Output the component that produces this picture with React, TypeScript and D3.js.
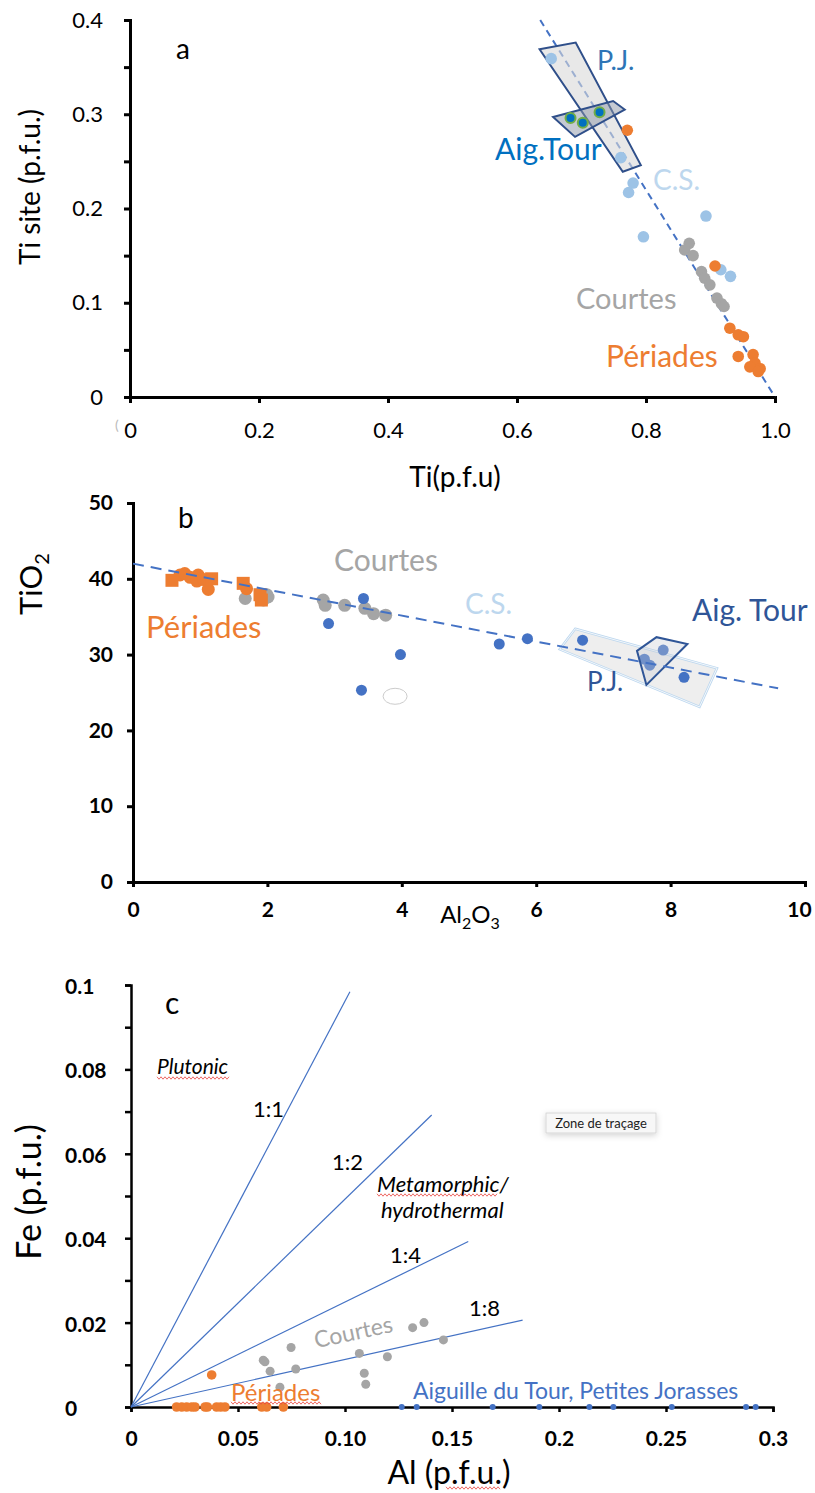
import React, { useEffect, useRef } from 'react';
import * as d3 from 'd3';

// ---- panel a : Ti site vs Ti (p.f.u.)
const csA = [[0.653, 0.359], [0.761, 0.254], [0.780, 0.227], [0.773, 0.217], [0.893, 0.192], [0.796, 0.170], [0.916, 0.135], [0.931, 0.128]];
const aigTourA = [[0.683, 0.296], [0.702, 0.291], [0.728, 0.302]];
const courtesA = [[0.867, 0.163], [0.860, 0.156], [0.873, 0.150], [0.886, 0.133], [0.891, 0.126], [0.899, 0.119], [0.910, 0.105], [0.917, 0.099], [0.921, 0.096]];
const periadesA = [[0.771, 0.283], [0.907, 0.139], [0.930, 0.073], [0.943, 0.066], [0.951, 0.064], [0.943, 0.043], [0.966, 0.045], [0.969, 0.036], [0.961, 0.032], [0.977, 0.030], [0.974, 0.027]];
const trendA = [[0.636, 0.4], [1.0, 0]];
const pjBoxA = [[0.635, 0.369], [0.691, 0.376], [0.792, 0.246], [0.764, 0.239]];
const aigBoxA = [[0.656, 0.297], [0.749, 0.314], [0.767, 0.305], [0.690, 0.276]];
const xTicksA = [0, 0.2, 0.4, 0.6, 0.8, 1.0];
const xTickLabelsA = ['0', '0.2', '0.4', '0.6', '0.8', '1.0'];
const yTicksA = [0, 0.1, 0.2, 0.3, 0.4];

// ---- panel b : TiO2 vs Al2O3
const periadesCirclesB = [[0.70, 40.5], [0.77, 40.7], [0.85, 40.2], [0.97, 40.5], [0.95, 39.7], [1.05, 39.9], [1.12, 38.6], [1.69, 38.7]];
const periadesSquaresB = [[0.58, 39.8], [1.17, 40.0], [1.64, 39.4], [1.89, 37.9], [1.91, 37.2]];
const courtesB = [[1.67, 37.4], [1.99, 37.9], [2.01, 37.6], [1.94, 37.2], [2.83, 37.2], [2.86, 36.5], [3.15, 36.5], [3.45, 36.1], [3.58, 35.4], [3.76, 35.2]];
const blueB = [[3.43, 37.4], [2.91, 34.1], [3.98, 30.0], [3.40, 25.3], [5.45, 31.4], [5.87, 32.1], [6.69, 31.9], [7.89, 30.6], [7.61, 29.4], [7.69, 28.6], [8.20, 27.0]];
const trendB = [[0, 42.0], [9.6, 25.55]];
const pjBoxB = [[6.58, 33.4], [8.69, 28.2], [8.43, 23.1], [6.35, 30.7]];
const aigBoxB = [[7.50, 30.5], [7.79, 32.3], [8.25, 31.4], [7.64, 26.0]];
const xTicksB = [0, 2, 4, 6, 8, 10];
const yTicksB = [0, 10, 20, 30, 40, 50];

// ---- panel c : Fe vs Al (p.f.u.)
const periadesC = [[0.0213, 0], [0.0237, 0], [0.026, 0], [0.0284, 0], [0.0299, 0], [0.0346, 0], [0.0357, 0], [0.040, 0], [0.0419, 0], [0.0439, 0], [0.0611, 0], [0.0634, 0], [0.0712, 0], [0.0377, 0.0076]];
const courtesC = [[0.0618, 0.0111], [0.0626, 0.0107], [0.065, 0.0085], [0.0748, 0.0141], [0.077, 0.0090], [0.0696, 0.0047], [0.1067, 0.0127], [0.109, 0.0080], [0.1097, 0.0054], [0.1198, 0.0119], [0.1316, 0.0188], [0.1369, 0.0200], [0.146, 0.0159]];
const aigPjC = [[0.1265, 0], [0.1335, 0], [0.169, 0], [0.1908, 0], [0.2142, 0], [0.2254, 0], [0.2527, 0], [0.2874, 0], [0.2919, 0]];
const ratioLinesC = [
  { label: '1:1', xEnd: 0.1023, yEnd: 0.0984 },
  { label: '1:2', xEnd: 0.1405, yEnd: 0.0692 },
  { label: '1:4', xEnd: 0.1576, yEnd: 0.0392 },
  { label: '1:8', xEnd: 0.183, yEnd: 0.0206 },
];
const xTicksC = [0, 0.05, 0.10, 0.15, 0.2, 0.25, 0.3];
const xTickLabelsC = ['0', '0.05', '0.10', '0.15', '0.2', '0.25', '0.3'];
const yMinorTicksC = [0, 0.01, 0.02, 0.03, 0.04, 0.05, 0.06, 0.07, 0.08, 0.09, 0.1];
const yTickLabelsC = [[0, '0'], [0.02, '0.02'], [0.04, '0.04'], [0.06, '0.06'], [0.08, '0.08'], [0.1, '0.1']];

const FONT = 'Lato, "Open Sans", sans-serif';
const ORANGE = '#ED7D31';
const GRAY = '#A5A5A5';
const LIGHTBLUE = '#9DC3E6';
const BLUE = '#4472C4';

function wavy(g, x1, x2, y) {
  // spell-check underline
  const pts = d3.range(x1, x2 + 0.1, 2).map((x, i) => [x, y + (i % 2 ? 1.2 : -1.2)]);
  g.append('path').attr('d', d3.line()(pts)).attr('fill', 'none').attr('stroke', '#e8413c').attr('stroke-width', 0.8);
}

export default function App() {
  const ref = useRef(null);

  useEffect(() => {
    const svg = d3.select(ref.current);
    svg.selectAll('*').remove();
    svg.style('font-family', FONT);

    const defs = svg.append('defs');
    const f = defs.append('filter').attr('id', 'shadow').attr('x', '-30%').attr('y', '-50%').attr('width', '160%').attr('height', '200%');
    f.append('feDropShadow').attr('dx', 0).attr('dy', 2).attr('stdDeviation', 3).attr('flood-color', '#000').attr('flood-opacity', 0.18);

    const styleAxis = (g, width, fontSize, bold) => {
      g.select('.domain').attr('stroke', '#000').attr('stroke-width', width);
      g.selectAll('.tick line').attr('stroke', '#000').attr('stroke-width', width);
      g.selectAll('.tick text').attr('fill', '#000').style('font-family', FONT).style('font-size', fontSize + 'px').style('font-weight', bold ? 'bold' : 'normal');
    };

    // ================= panel a =================
    const xA = d3.scaleLinear().domain([0, 1]).range([130, 775]);
    const yA = d3.scaleLinear().domain([0, 0.4]).range([397, 20]);
    const a = svg.append('g');

    a.append('g').attr('transform', `translate(0,${yA(0)})`)
      .call(d3.axisBottom(xA).tickValues(xTicksA).tickFormat((d, i) => xTickLabelsA[i]).tickSizeOuter(0).tickSize(6).tickPadding(19))
      .call(g => styleAxis(g, 3, 22, false));
    a.append('g').attr('transform', `translate(${xA(0)},0)`)
      .call(d3.axisLeft(yA).tickValues(d3.range(0, 0.401, 0.05)).tickFormat(d => (yTicksA.some(t => Math.abs(t - d) < 1e-6) ? d3.format('.1~f')(d) : '')).tickSizeOuter(0).tickSize(6).tickPadding(21))
      .call(g => styleAxis(g, 3, 22, false));
    a.append('text').attr('x', 115).attr('y', 430).attr('font-size', 14).attr('fill', '#bbb').text('(');

    a.append('path').attr('d', d3.line().x(d => xA(d[0])).y(d => yA(d[1]))(trendA))
      .attr('stroke', BLUE).attr('stroke-width', 2).attr('stroke-dasharray', '7,5').attr('fill', 'none');

    const polyA = d3.line().x(d => xA(d[0])).y(d => yA(d[1])).curve(d3.curveLinearClosed);
    a.append('path').attr('d', polyA(pjBoxA)).attr('fill', '#d9d9d9').attr('fill-opacity', 0.6).attr('stroke', '#2F4F8A').attr('stroke-width', 2);

    a.selectAll('.csA').data(csA).enter().append('circle').attr('cx', d => xA(d[0])).attr('cy', d => yA(d[1])).attr('r', 5.8).attr('fill', LIGHTBLUE);
    a.append('path').attr('d', polyA(aigBoxA)).attr('fill', '#8c96a8').attr('fill-opacity', 0.5).attr('stroke', '#2F4F8A').attr('stroke-width', 2);
    a.selectAll('.aigA').data(aigTourA).enter().append('circle').attr('cx', d => xA(d[0])).attr('cy', d => yA(d[1])).attr('r', 5).attr('fill', '#0070C0').attr('stroke', '#70AD47').attr('stroke-width', 2);
    a.selectAll('.courtesA').data(courtesA).enter().append('circle').attr('cx', d => xA(d[0])).attr('cy', d => yA(d[1])).attr('r', 5.8).attr('fill', GRAY);
    a.selectAll('.perA').data(periadesA).enter().append('circle').attr('cx', d => xA(d[0])).attr('cy', d => yA(d[1])).attr('r', 5.8).attr('fill', ORANGE);

    a.append('text').attr('x', 176).attr('y', 59).attr('font-size', 28).text('a');
    a.append('text').attr('x', 597).attr('y', 70).attr('font-size', 27).attr('fill', '#2E75B6').text('P.J.');
    a.append('text').attr('x', 495).attr('y', 160).attr('font-size', 30).attr('fill', '#0070C0').text('Aig.Tour');
    a.append('text').attr('x', 653).attr('y', 190).attr('font-size', 28).attr('fill', '#BDD7EE').text('C.S.');
    a.append('text').attr('x', 576).attr('y', 309).attr('font-size', 29).attr('fill', GRAY).text('Courtes');
    a.append('text').attr('x', 606).attr('y', 367).attr('font-size', 30).attr('fill', ORANGE).text('Périades');
    a.append('text').attr('transform', 'translate(40,187) rotate(-90)').attr('text-anchor', 'middle').attr('font-size', 28).text('Ti site (p.f.u.)');
    a.append('text').attr('x', 455).attr('y', 487).attr('text-anchor', 'middle').attr('font-size', 28).text('Ti(p.f.u)');

    // ================= panel b =================
    const xB = d3.scaleLinear().domain([0, 10]).range([133, 805]);
    const yB = d3.scaleLinear().domain([0, 50]).range([882, 503]);
    const b = svg.append('g');

    b.append('g').attr('transform', `translate(0,${yB(0)})`)
      .call(d3.axisBottom(xB).tickValues(xTicksB).tickSizeOuter(0).tickSize(5).tickPadding(15))
      .call(g => styleAxis(g, 3, 21, true))
      .call(g => g.selectAll('.tick text').filter(d => d === 10).attr('dx', -6));
    b.append('g').attr('transform', `translate(${xB(0)},0)`)
      .call(d3.axisLeft(yB).tickValues(yTicksB).tickSizeOuter(0).tickSize(6).tickPadding(14))
      .call(g => styleAxis(g, 3, 21, true));

    const polyB = d3.line().x(d => xB(d[0])).y(d => yB(d[1])).curve(d3.curveLinearClosed);
    b.append('path').attr('d', polyB(pjBoxB)).attr('fill', '#e7e7e7').attr('fill-opacity', 0.7).attr('stroke', '#BDD7EE').attr('stroke-width', 2.5);
    b.append('path').attr('d', polyB(pjBoxB)).attr('fill', 'none').attr('stroke', '#fff').attr('stroke-width', 0.8);

    b.selectAll('.courtesB').data(courtesB).enter().append('circle').attr('cx', d => xB(d[0])).attr('cy', d => yB(d[1])).attr('r', 6.5).attr('fill', GRAY);
    b.selectAll('.perB').data(periadesCirclesB).enter().append('circle').attr('cx', d => xB(d[0])).attr('cy', d => yB(d[1])).attr('r', 6.5).attr('fill', ORANGE);
    b.selectAll('.perSqB').data(periadesSquaresB).enter().append('rect').attr('x', d => xB(d[0]) - 6.5).attr('y', d => yB(d[1]) - 6.5).attr('width', 13).attr('height', 13).attr('fill', ORANGE);
    b.selectAll('.blueB').data(blueB).enter().append('circle').attr('cx', d => xB(d[0])).attr('cy', d => yB(d[1])).attr('r', 5.5).attr('fill', BLUE);
    b.append('path').attr('d', polyB(aigBoxB)).attr('fill', '#c8ccd4').attr('fill-opacity', 0.35).attr('stroke', '#2F5597').attr('stroke-width', 2);

    b.append('path').attr('d', d3.line().x(d => xB(d[0])).y(d => yB(d[1]))(trendB))
      .attr('stroke', BLUE).attr('stroke-width', 2).attr('stroke-dasharray', '11,7').attr('fill', 'none');
    b.append('ellipse').attr('cx', xB(3.9)).attr('cy', yB(24.5)).attr('rx', 12).attr('ry', 8).attr('fill', 'none').attr('stroke', '#ccc').attr('stroke-width', 1);

    b.append('text').attr('x', 178).attr('y', 528).attr('font-size', 28).text('b');
    b.append('text').attr('x', 334).attr('y', 571).attr('font-size', 30).attr('fill', GRAY).text('Courtes');
    b.append('text').attr('x', 146).attr('y', 638).attr('font-size', 31).attr('fill', ORANGE).text('Périades');
    b.append('text').attr('x', 465).attr('y', 614).attr('font-size', 28).attr('fill', '#BDD7EE').text('C.S.');
    b.append('text').attr('x', 692).attr('y', 621).attr('font-size', 30).attr('fill', '#2F5597').text('Aig. Tour');
    b.append('text').attr('x', 587).attr('y', 691).attr('font-size', 26).attr('fill', '#2F5597').text('P.J.');
    const tb = b.append('text').attr('transform', 'translate(42,584) rotate(-90)').attr('text-anchor', 'middle').attr('font-size', 31);
    tb.append('tspan').text('TiO');
    tb.append('tspan').attr('font-size', 20).attr('dy', 7).text('2');
    const ab = b.append('text').attr('x', 470).attr('y', 923).attr('text-anchor', 'middle').attr('font-size', 24);
    ab.append('tspan').text('Al');
    ab.append('tspan').attr('font-size', 16).attr('dy', 6).text('2');
    ab.append('tspan').attr('dy', -6).text('O');
    ab.append('tspan').attr('font-size', 16).attr('dy', 6).text('3');

    // ================= panel c =================
    const xC = d3.scaleLinear().domain([0, 0.3]).range([131, 773]);
    const yC = d3.scaleLinear().domain([0, 0.1]).range([1407, 985]);
    const c = svg.append('g');

    c.append('g').attr('transform', `translate(0,${yC(0)})`)
      .call(d3.axisBottom(xC).tickValues(xTicksC).tickFormat((d, i) => xTickLabelsC[i]).tickSizeOuter(0).tickSize(5).tickPadding(19))
      .call(g => styleAxis(g, 2.5, 21, true));
    c.append('g').attr('transform', `translate(${xC(0)},0)`)
      .call(d3.axisLeft(yC).tickValues(yMinorTicksC).tickFormat('').tickSizeOuter(0).tickSize(6))
      .call(g => styleAxis(g, 2.5, 21, true));
    c.selectAll('.ylabC').data(yTickLabelsC).enter().append('text')
      .attr('x', 65).attr('y', d => yC(d[0]) + 9).attr('font-size', 21).attr('font-weight', 'bold').text(d => d[1]);

    c.selectAll('.ratio').data(ratioLinesC).enter().append('line')
      .attr('x1', xC(0)).attr('y1', yC(0)).attr('x2', d => xC(d.xEnd)).attr('y2', d => yC(d.yEnd))
      .attr('stroke', BLUE).attr('stroke-width', 1.2);

    c.selectAll('.courtesC').data(courtesC).enter().append('circle').attr('cx', d => xC(d[0])).attr('cy', d => yC(d[1])).attr('r', 4.5).attr('fill', GRAY);
    c.selectAll('.perC').data(periadesC).enter().append('circle').attr('cx', d => xC(d[0])).attr('cy', d => yC(d[1])).attr('r', 4.8).attr('fill', ORANGE);
    c.selectAll('.aigC').data(aigPjC).enter().append('circle').attr('cx', d => xC(d[0])).attr('cy', d => yC(d[1])).attr('r', 3).attr('fill', BLUE);

    c.append('text').attr('x', 165).attr('y', 1014).attr('font-size', 30).text('c');
    c.append('text').attr('x', 157).attr('y', 1074).attr('font-size', 21).attr('font-style', 'italic').text('Plutonic');
    wavy(c, 157, 229, 1078);
    const ratioPos = [[253, 1117], [332, 1170], [390, 1263], [469, 1316]];
    ratioLinesC.forEach((r, i) => c.append('text').attr('x', ratioPos[i][0]).attr('y', ratioPos[i][1]).attr('font-size', 22).text(r.label));
    c.append('text').attr('x', 377).attr('y', 1192).attr('font-size', 22).attr('font-style', 'italic').text('Metamorphic/');
    wavy(c, 377, 497, 1195);
    c.append('text').attr('x', 381).attr('y', 1218).attr('font-size', 22).attr('font-style', 'italic').text('hydrothermal');
    c.append('text').attr('transform', 'translate(355,1340) rotate(-12)').attr('text-anchor', 'middle').attr('font-size', 23).attr('fill', GRAY).text('Courtes');
    c.append('text').attr('x', 231).attr('y', 1401).attr('font-size', 24).attr('fill', ORANGE).text('Périades');
    wavy(c, 231, 322, 1403);
    c.append('text').attr('x', 413).attr('y', 1399).attr('font-size', 23).attr('fill', BLUE).text('Aiguille du Tour, Petites Jorasses');
    c.append('text').attr('transform', 'translate(41,1192) rotate(-90)').attr('text-anchor', 'middle').attr('font-size', 34).text('Fe (p.f.u.)');
    c.append('text').attr('x', 449).attr('y', 1484).attr('text-anchor', 'middle').attr('font-size', 32).text('Al (p.f.u.)');
    wavy(c, 446, 500, 1488);

    // plot-area tooltip
    const tip = c.append('g').attr('transform', 'translate(546,1113)');
    tip.append('rect').attr('width', 110).attr('height', 20).attr('fill', '#f7f7f7').attr('stroke', '#d0d0d0').attr('stroke-width', 0.8).attr('filter', 'url(#shadow)');
    tip.append('text').attr('x', 55).attr('y', 14.5).attr('text-anchor', 'middle').attr('font-size', 13).attr('fill', '#222').text('Zone de traçage');
  }, []);

  return (
    <svg ref={ref} width={815} height={1493} style={{ position: 'absolute', left: 0, top: 0, background: '#fff' }} />
  );
}
